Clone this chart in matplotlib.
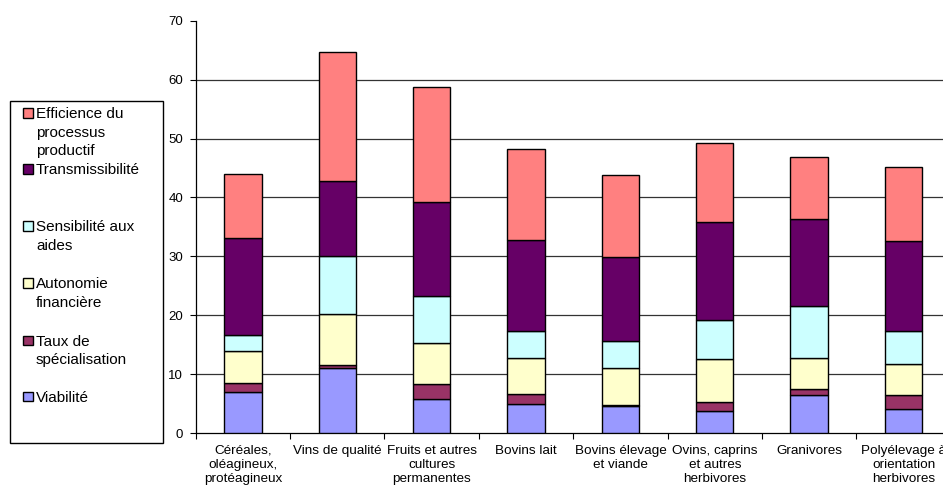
import matplotlib.pyplot as plt
from matplotlib.patches import Rectangle
import numpy as np

plt.rcParams['font.family'] = ['Liberation Sans', 'DejaVu Sans']

# ========== DATA ==========
categories = ["Céréales,\noléagineux,\nprotéagineux", "Vins de qualité",
              "Fruits et autres\ncultures\npermanentes", "Bovins lait",
              "Bovins élevage\net viande", "Ovins, caprins\net autres\nherbivores",
              "Granivores", "Polyélevage à\norientation\nherbivores"]

viabilite = [6.9, 11.1, 5.7, 5.0, 4.5, 3.7, 6.5, 4.1]
taux_spec = [1.6, 0.5, 2.6, 1.7, 0.3, 1.5, 0.9, 2.3]
autonomie = [5.5, 8.6, 6.9, 6.0, 6.2, 7.3, 5.3, 5.3]
sensibilite = [2.7, 9.8, 8.0, 4.6, 4.7, 6.75, 8.9, 5.6]
transmissibilite = [16.4, 12.7, 16.0, 15.4, 14.1, 16.55, 14.75, 15.3]
efficience = [10.9, 22.05, 19.5, 15.6, 14.0, 13.5, 10.45, 12.5]

series_names = ["Viabilité", "Taux de\nspécialisation", "Autonomie\nfinancière",
                "Sensibilité aux\naides", "Transmissibilité",
                "Efficience du\nprocessus\nproductif"]
series_values = [viabilite, taux_spec, autonomie, sensibilite, transmissibilite, efficience]
colors = ["#9999FF", "#993366", "#FFFFCC", "#CCFFFF", "#660066", "#FF8080"]

# ========== FIGURE ==========
W, H = 943, 492
fig = plt.figure(figsize=(W / 100, H / 100), dpi=100)
# axes run past the right edge, like the original (last label is cut)
ax = fig.add_axes([195.7 / W, 59 / H, 755 / W, 412.3 / H])

x = np.arange(len(categories))
bottom = np.zeros(len(categories))
for vals, col in zip(series_values, colors):
    ax.bar(x, vals, width=0.395, bottom=bottom, color=col, edgecolor="black",
           linewidth=1.0, zorder=3)
    bottom += np.array(vals)

ax.set_xlim(-0.5, len(categories) - 0.5)
ax.set_ylim(0, 70)
ax.set_yticks(range(0, 71, 10))
for yv in range(10, 61, 10):
    ax.axhline(yv, color="#333333", linewidth=0.9, zorder=1)

# ticks between categories, labels at centres
ax.set_xticks(np.arange(-0.5, len(categories), 1.0))
ax.set_xticklabels([])
ax.set_xticks(x, minor=True)
ax.set_xticklabels(categories, minor=True, fontsize=9.7, linespacing=1.22)
ax.tick_params(axis="x", which="major", direction="out", length=4, width=0.8)
ax.tick_params(axis="x", which="minor", length=0, pad=8.5)
ax.tick_params(axis="y", direction="out", length=4, width=0.8, labelsize=9.5, pad=5)

for s in ["top", "right"]:
    ax.spines[s].set_visible(False)
for s in ["left", "bottom"]:
    ax.spines[s].set_linewidth(0.9)
    ax.spines[s].set_color("black")

# ========== LEGEND (drawn by hand, Excel style) ==========
def fx(px):
    return px / W

def fy(py):
    return 1 - py / H

box = Rectangle((fx(9.5), fy(442.5)), fx(162.7) - fx(9.5), fy(101) - fy(442.5),
                transform=fig.transFigure, facecolor="white", edgecolor="black",
                linewidth=1.0)
fig.add_artist(box)

baselines = [401.7, 345.7, 288.3, 231.0, 174.0, 118.3]
line_gap = 18.6
for name, col, base in zip(series_names, colors, baselines):
    sq = Rectangle((fx(23), fy(base - 0.5)), fx(10), fy(0) - fy(9.5),
                   transform=fig.transFigure, facecolor=col, edgecolor="black",
                   linewidth=1.0)
    fig.add_artist(sq)
    for i, line in enumerate(name.split("\n")):
        fig.text(fx(36), fy(base + i * line_gap), line, fontsize=11,
                 va="baseline", ha="left")

fig.savefig("out.png", dpi=100)
